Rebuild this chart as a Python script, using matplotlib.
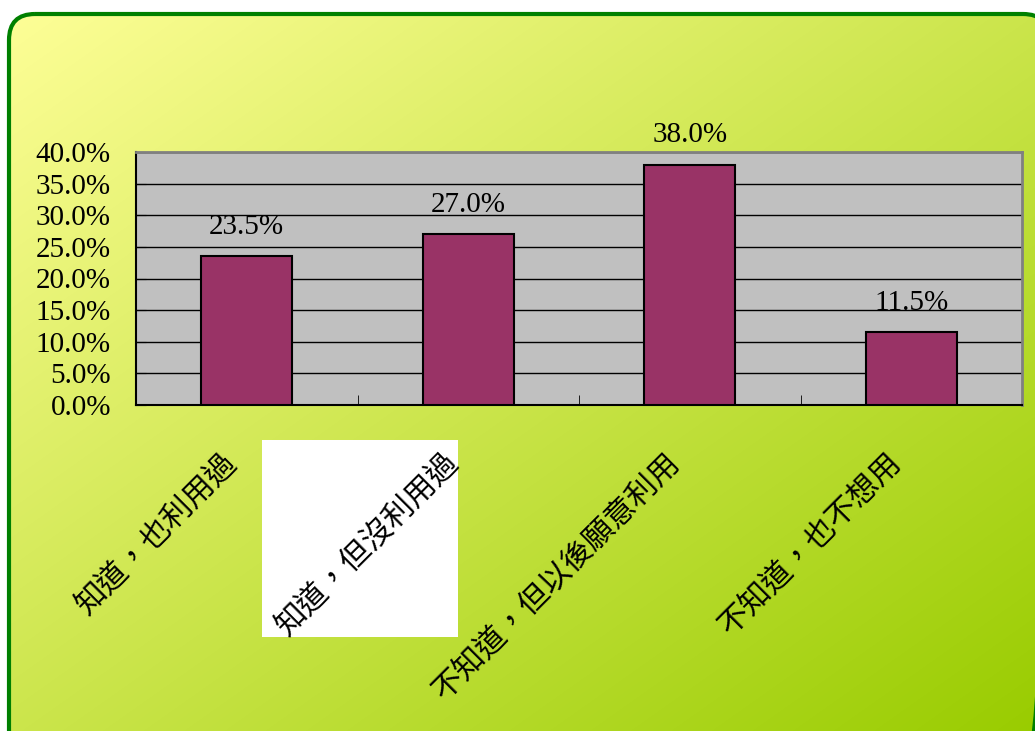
import numpy as np
import matplotlib
matplotlib.use("Agg")
import matplotlib.pyplot as plt
from matplotlib.patches import FancyBboxPatch, Rectangle
from matplotlib.ticker import PercentFormatter
from matplotlib.transforms import ScaledTranslation

categories = ["知道，也利用過", "知道，但沒利用過", "不知道，但以後願意利用", "不知道，也不想用"]
shares = [23.5, 27.0, 38.0, 11.5]

W, H = 1035, 731
fig = plt.figure(figsize=(W / 100, H / 100), dpi=100)

# background with diagonal yellow -> green gradient inside a rounded green frame
bg = fig.add_axes([0, 0, 1, 1], zorder=-2)
bg.set_xlim(0, W)
bg.set_ylim(H, 0)
bg.axis("off")
yy, xx = np.mgrid[0:H, 0:W]
t = (xx / W + yy / H) / 2
c0 = np.array([255, 255, 153]) / 255
c1 = np.array([153, 204, 0]) / 255
grad = c0 + (c1 - c0) * t[..., None]
frame = FancyBboxPatch((9, 14), 1040, 760, boxstyle="round,pad=0,rounding_size=26",
                       facecolor="none", edgecolor="#008000", linewidth=3, zorder=3)
bg.add_patch(frame)
img = bg.imshow(grad, extent=(0, W, H, 0), aspect="auto", zorder=1)
img.set_clip_path(frame)
# white box behind the second category label (pasted image in the original)
bg.add_patch(Rectangle((262, 440), 196, 197, facecolor="white", edgecolor="none", zorder=4))

ax = fig.add_axes([136 / W, 1 - 405 / H, (1022 - 136) / W, (405 - 152) / H])
ax.set_facecolor("#C0C0C0")
x = np.arange(len(categories))
ax.bar(x, shares, width=0.41, color="#993366", edgecolor="black", linewidth=1.5, zorder=3)
ax.set_xlim(-0.5, len(categories) - 0.5)
ax.set_ylim(0, 40)
ax.set_yticks(np.arange(0, 41, 5))
ax.yaxis.set_major_formatter(PercentFormatter(decimals=1))
ax.yaxis.grid(True, color="black", linewidth=1)
ax.set_axisbelow(True)

for xi, v in zip(x, shares):
    ax.annotate(f"{v:.1f}%", (xi, v), xytext=(0, 12), textcoords="offset points",
                ha="center", va="bottom", fontsize=21, family="Liberation Serif")

# category labels, rotated 45 degrees, ending just left of each category centre
ax.set_xticks([])
lab_tr = ax.get_xaxis_transform() + ScaledTranslation(-0.26, -0.42, fig.dpi_scale_trans)
for xi, name in zip(x, categories):
    ax.text(xi, 0, name, transform=lab_tr, rotation=45, rotation_mode="anchor",
            ha="right", va="top", fontsize=22, family=["Noto Sans CJK TC", "DejaVu Sans"],
            clip_on=False)
ax.set_xticks(x[:-1] + 0.5, minor=True)
ax.tick_params(axis="x", which="minor", direction="in", length=7, color="black")
ax.tick_params(axis="y", direction="in", length=7, pad=18)
for lab in ax.get_yticklabels():
    lab.set_fontfamily("Liberation Serif")
    lab.set_fontsize(21)

for s in ["left", "bottom"]:
    ax.spines[s].set_color("black")
    ax.spines[s].set_linewidth(1.5)
for s in ["top", "right"]:
    ax.spines[s].set_color("#808080")
    ax.spines[s].set_linewidth(2)

fig.savefig("out.png", dpi=100)
